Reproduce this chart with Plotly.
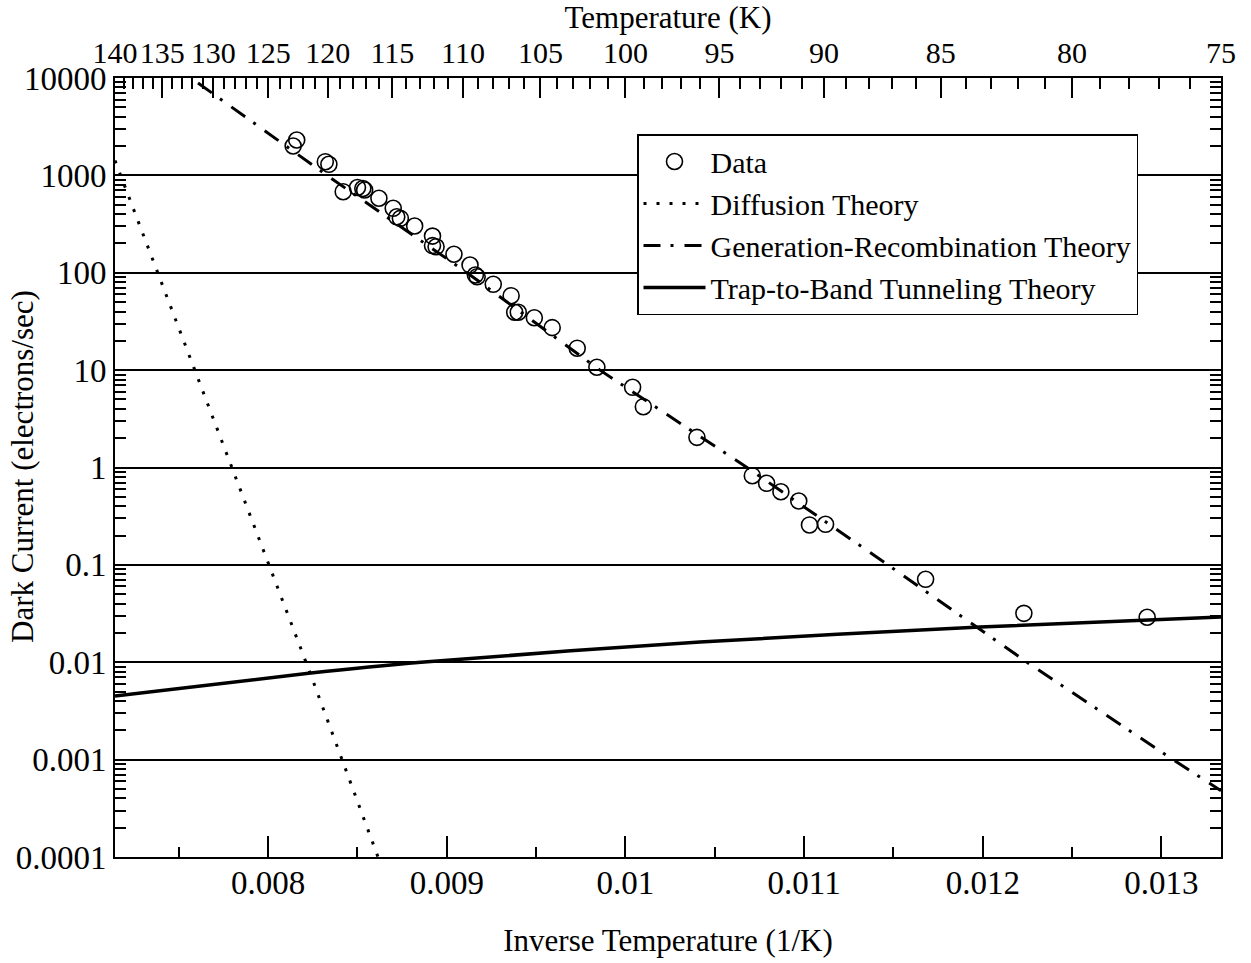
import plotly.graph_objects as go

# ---- data ----
data_invT = [0.00814, 0.00816, 0.00832, 0.00834, 0.00842, 0.00850, 0.00853, 0.00854,
             0.00862, 0.00870, 0.00872, 0.00874, 0.00882, 0.00892, 0.00892, 0.00894,
             0.00904, 0.00913, 0.00916, 0.00917, 0.00926, 0.00936, 0.00938, 0.00940,
             0.00949, 0.00959, 0.00973, 0.00984, 0.01004, 0.01010, 0.01040, 0.01071,
             0.01079, 0.01087, 0.01097, 0.01103, 0.01112, 0.01168, 0.01223, 0.01292]
data_current = [2003, 2309, 1382, 1299, 680, 751, 733, 708,
                582, 459, 376, 362, 302, 238, 190, 185,
                155, 120, 94.8, 91.1, 76.1, 58.1, 39.3, 39.3,
                34.5, 27.3, 16.8, 10.7, 6.66, 4.21, 2.04, 0.824,
                0.688, 0.564, 0.453, 0.257, 0.261, 0.0711, 0.0318, 0.0290]

diff_invT = [0.0071429, 0.0075867, 0.0082265, 0.0086149]
diff_current = [1420, 10.3, 0.00852, 0.0001]

gr_invT = [0.0076074, 0.0083295, 0.0091131, 0.0098575, 0.0106803, 0.0114695,
           0.0122475, 0.0130647, 0.0133333]
gr_current = [8886, 1000, 100, 10, 1, 0.1, 0.01, 0.001, 0.00048]

tun_invT = [0.0071429, 0.0082265, 0.0088556, 0.0104172, 0.0119844, 0.0133333]
tun_current = [0.0045, 0.0077, 0.0100, 0.01614, 0.0230, 0.0292]

y_tickvals = [1e4, 1e3, 1e2, 1e1, 1, 0.1, 0.01, 0.001, 0.0001]
y_ticktext = ["10000", "1000", "100", "10", "1", "0.1", "0.01", "0.001", "0.0001"]
x_tickvals = [0.008, 0.009, 0.010, 0.011, 0.012, 0.013]
x_ticktext = ["0.008", "0.009", "0.01", "0.011", "0.012", "0.013"]
x_minor = [0.0075, 0.0085, 0.0095, 0.0105, 0.0115, 0.0125, 0.0135]
top_temps = [140, 135, 130, 125, 120, 115, 110, 105, 100, 95, 90, 85, 80, 75]
top_minor_temps = [t for t in range(75, 141) if t % 5 != 0]

FONT = "Liberation Serif"
TICK_SIZE = 33
TOP_TICK_SIZE = 30
TITLE_SIZE = 31
LEGEND_SIZE = 30
x_range = [1 / 140, 1 / 75]

fig = go.Figure()
fig.add_trace(go.Scatter(
    x=data_invT, y=data_current, mode="markers", name="Data",
    marker=dict(symbol="circle-open", size=16, color="black", line=dict(width=1.6, color="black"))))
fig.add_trace(go.Scatter(
    x=diff_invT, y=diff_current, mode="lines", name="Diffusion Theory",
    line=dict(color="black", width=3, dash="3px,10px")))
fig.add_trace(go.Scatter(
    x=gr_invT, y=gr_current, mode="lines", name="Generation-Recombination Theory",
    line=dict(color="black", width=3, dash="17px,10px,3px,11px")))
fig.add_trace(go.Scatter(
    x=tun_invT, y=tun_current, mode="lines", name="Trap-to-Band Tunneling Theory",
    line=dict(color="black", width=3.5, shape="spline", smoothing=0.8)))
# invisible copy of the data on the top (temperature) axis so that axis is drawn
fig.add_trace(go.Scatter(
    x=data_invT, y=data_current, xaxis="x2", mode="markers", showlegend=False,
    hoverinfo="skip", marker=dict(opacity=0, size=1)))

axis_common = dict(showline=True, linecolor="black", linewidth=2, zeroline=False,
                   tickangle=0)

y_minor = [k * 10 ** n for n in range(-4, 4) for k in range(2, 10)]

fig.update_layout(
    width=1251, height=963,
    margin=dict(l=115, r=30, t=78, b=106, autoexpand=False),
    paper_bgcolor="white", plot_bgcolor="white",
    font=dict(family=FONT, size=TITLE_SIZE, color="black"),
    showlegend=True,
    legend=dict(x=(637 - 115) / 1106, y=(857 - 134) / 779, xanchor="left", yanchor="top",
                bgcolor="white", bordercolor="black", borderwidth=1.5,
                font=dict(family=FONT, size=LEGEND_SIZE, color="black"),
                itemwidth=62, tracegroupgap=0),
    xaxis=dict(
        **axis_common, type="linear", range=x_range, showgrid=False, mirror=False,
        tickfont=dict(family=FONT, size=TICK_SIZE, color="black"),
        tickmode="array", tickvals=x_tickvals, ticktext=x_ticktext,
        ticks="inside", ticklen=21, tickwidth=1.5, tickcolor="black",
        ticklabelstandoff=-5,
        minor=dict(tickmode="array", tickvals=x_minor, ticks="inside", ticklen=10,
                   tickwidth=1.5, tickcolor="black", showgrid=False),
        title=dict(text="Inverse Temperature (1/K)", font=dict(family=FONT, size=TITLE_SIZE),
                   standoff=30),
    ),
    xaxis2=dict(
        **axis_common, type="linear", range=x_range, overlaying="x", side="top",
        showgrid=False, anchor="y",
        tickfont=dict(family=FONT, size=TOP_TICK_SIZE, color="black"),
        tickmode="array", tickvals=[1 / t for t in top_temps], ticktext=[str(t) for t in top_temps],
        ticks="inside", ticklen=20, tickwidth=1.5, tickcolor="black",
        ticklabelstandoff=1,
        minor=dict(tickmode="array", tickvals=[1 / t for t in top_minor_temps], ticks="inside",
                   ticklen=11, tickwidth=1.5, tickcolor="black", showgrid=False),
        title=dict(text="Temperature (K)", font=dict(family=FONT, size=TITLE_SIZE), standoff=2),
    ),
    yaxis=dict(
        **axis_common, type="log", range=[-4, 4], mirror="ticks",
        tickfont=dict(family=FONT, size=TICK_SIZE, color="black"),
        tickmode="array", tickvals=y_tickvals, ticktext=y_ticktext,
        ticks="inside", ticklen=18, tickwidth=1.5, tickcolor="black",
        showgrid=True, gridcolor="black", gridwidth=1.5,
        minor=dict(tickmode="array", tickvals=y_minor, ticks="inside", ticklen=11,
                   tickwidth=1.5, tickcolor="black", showgrid=False),
    ),
    annotations=[dict(text="Dark Current (electrons/sec)", textangle=-90,
                      xref="paper", yref="paper", x=(22 - 115) / 1106, y=(857 - 467) / 779,
                      xanchor="center", yanchor="middle", showarrow=False,
                      font=dict(family=FONT, size=TITLE_SIZE, color="black"))],
)

fig.write_html("out.html")
